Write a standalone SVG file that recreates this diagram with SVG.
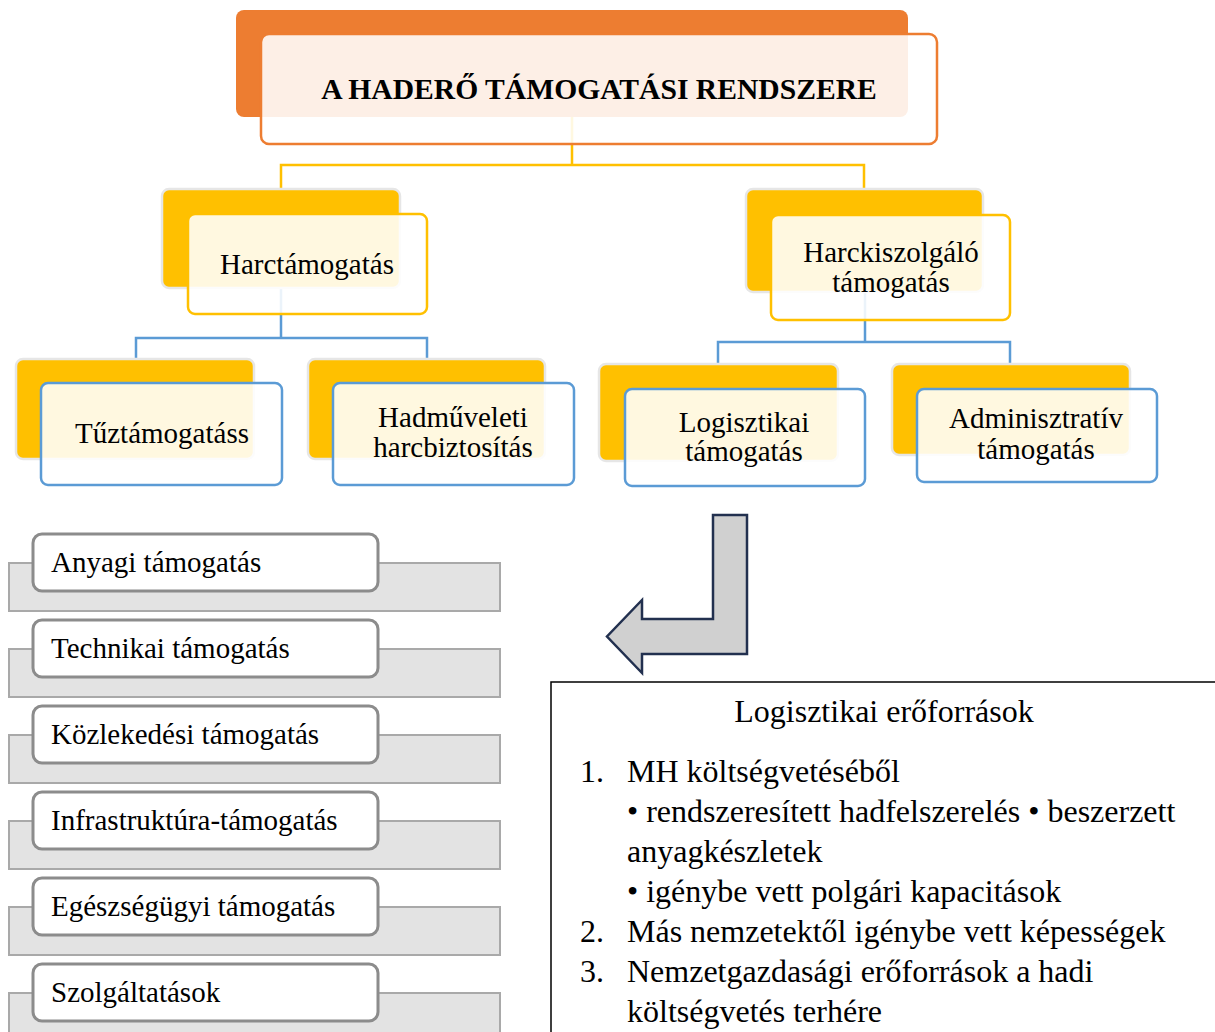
<svg xmlns="http://www.w3.org/2000/svg" width="1215" height="1032" viewBox="0 0 1215 1032">
<style>
.t{font-family:"Liberation Serif","Times New Roman",serif;font-size:29px;fill:#000}
.tb{font-family:"Liberation Serif","Times New Roman",serif;font-size:29.6px;font-weight:bold;fill:#000}
.tx{font-family:"Liberation Serif","Times New Roman",serif;font-size:32px;fill:#000}
.c{text-anchor:middle}
.yl{fill:none;stroke:#FFC000;stroke-width:2.5}
.bl{fill:none;stroke:#5B9BD5;stroke-width:2.5}
.backY{fill:#FFC000;stroke:#E6E6E6;stroke-width:2.5}
.frontY{fill:#fff;fill-opacity:0.88;stroke:#FFC000;stroke-width:2.5}
.frontB{fill:#fff;fill-opacity:0.88;stroke:#5B9BD5;stroke-width:2.5}
.gback{fill:#E3E3E3;stroke:#A9A9A9;stroke-width:2}
.gfront{fill:#fff;stroke:#8C8C8C;stroke-width:3}
</style>
<rect width="1215" height="1032" fill="#fff"/>
<g id="connectors">
<path class="yl" d="M572,117 V165 M281,189 V165 H864 V189"/>
<path class="bl" d="M281,288 V338 M136,360 V338 H427 V360"/>
<path class="bl" d="M865,292 V342 M718,364 V342 H1010 V364"/>
</g>
<g id="root">
<rect x="236" y="10" width="672" height="107" rx="8" fill="#ED7D31"/>
<rect x="261" y="34" width="676" height="110" rx="8" fill="#fff" fill-opacity="0.88" stroke="#ED7D31" stroke-width="2.5"/>
<text class="tb c" x="599" y="99">A HADERŐ TÁMOGATÁSI RENDSZERE</text>
</g>
<g id="harctamogatas">
<rect class="backY" x="162" y="189" width="238" height="99" rx="7"/>
<rect class="frontY" x="188" y="214" width="239" height="100" rx="7"/>
<text class="t c" x="307" y="274">Harctámogatás</text>
</g>
<g id="harckiszolgalo">
<rect class="backY" x="746" y="189" width="237" height="103" rx="7"/>
<rect class="frontY" x="771" y="215" width="239" height="105" rx="7"/>
<text class="t c" x="891" y="262">Harckiszolgáló</text>
<text class="t c" x="891" y="292">támogatás</text>
</g>
<g id="tuztamogatas">
<rect class="backY" x="16" y="359" width="238" height="100" rx="7"/>
<rect class="frontB" x="41" y="383" width="241" height="102" rx="7"/>
<text class="t c" x="162" y="443">Tűztámogatáss</text>
</g>
<g id="hadmuveleti">
<rect class="backY" x="308" y="359" width="237" height="100" rx="7"/>
<rect class="frontB" x="333" y="383" width="241" height="102" rx="7"/>
<text class="t c" x="453" y="427">Hadműveleti</text>
<text class="t c" x="453" y="457">harcbiztosítás</text>
</g>
<g id="logisztikai">
<rect class="backY" x="599" y="364" width="239" height="97" rx="7"/>
<rect class="frontB" x="625" y="389" width="240" height="97" rx="7"/>
<text class="t c" x="744" y="432">Logisztikai</text>
<text class="t c" x="744" y="461">támogatás</text>
</g>
<g id="adminisztrativ">
<rect class="backY" x="892" y="364" width="238" height="91" rx="7"/>
<rect class="frontB" x="917" y="389" width="240" height="93" rx="7"/>
<text class="t c" x="1036" y="428">Adminisztratív</text>
<text class="t c" x="1036" y="459">támogatás</text>
</g>
<g id="arrow">
<path d="M713,515 H747 V654 H642 V673 L607,636.5 L642,600 V619 H713 Z" fill="#D0D0D0" stroke="#22304F" stroke-width="2.5" stroke-linejoin="miter"/>
</g>
<g id="anyagi">
<rect class="gback" x="9" y="563" width="491" height="48"/>
<rect class="gfront" x="33" y="534" width="345" height="57" rx="9"/>
<text class="t" x="51" y="572">Anyagi támogatás</text>
</g>
<g id="technikai">
<rect class="gback" x="9" y="649" width="491" height="48"/>
<rect class="gfront" x="33" y="620" width="345" height="57" rx="9"/>
<text class="t" x="51" y="658">Technikai támogatás</text>
</g>
<g id="kozlekedesi">
<rect class="gback" x="9" y="735" width="491" height="48"/>
<rect class="gfront" x="33" y="706" width="345" height="57" rx="9"/>
<text class="t" x="51" y="744">Közlekedési támogatás</text>
</g>
<g id="infrastruktura">
<rect class="gback" x="9" y="821" width="491" height="48"/>
<rect class="gfront" x="33" y="792" width="345" height="57" rx="9"/>
<text class="t" x="51" y="830">Infrastruktúra-támogatás</text>
</g>
<g id="egeszsegugyi">
<rect class="gback" x="9" y="907" width="491" height="48"/>
<rect class="gfront" x="33" y="878" width="345" height="57" rx="9"/>
<text class="t" x="51" y="916">Egészségügyi támogatás</text>
</g>
<g id="szolgaltatasok">
<rect class="gback" x="9" y="993" width="491" height="48"/>
<rect class="gfront" x="33" y="964" width="345" height="57" rx="9"/>
<text class="t" x="51" y="1002">Szolgáltatások</text>
</g>
<g id="eroforrasok">
<rect x="551" y="682" width="700" height="400" fill="#fff" stroke="#000" stroke-width="1.5"/>
<text class="tx c" x="884" y="722">Logisztikai erőforrások</text>
<text class="tx" x="580" y="782">1.</text>
<text class="tx" x="627" y="782">MH költségvetéséből</text>
<text class="tx" x="627" y="822">• rendszeresített hadfelszerelés • beszerzett</text>
<text class="tx" x="627" y="862">anyagkészletek</text>
<text class="tx" x="627" y="902">• igénybe vett polgári kapacitások</text>
<text class="tx" x="580" y="942">2.</text>
<text class="tx" x="627" y="942">Más nemzetektől igénybe vett képességek</text>
<text class="tx" x="580" y="982">3.</text>
<text class="tx" x="627" y="982">Nemzetgazdasági erőforrások a hadi</text>
<text class="tx" x="627" y="1022">költségvetés terhére</text>
</g>
</svg>
